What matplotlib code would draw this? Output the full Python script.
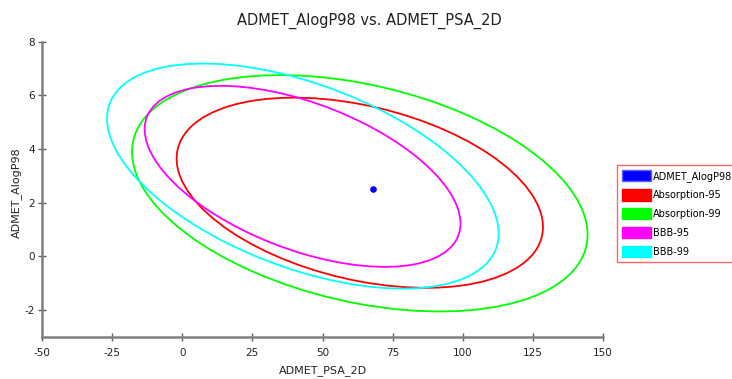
import numpy as np
import matplotlib
matplotlib.use("Agg")
import matplotlib.pyplot as plt
from matplotlib.patches import Ellipse, Patch
from matplotlib.transforms import Affine2D

plt.rcParams['font.family'] = ['DejaVu Sans']
plt.rcParams['axes.unicode_minus'] = False

# ellipse parameters: center, half extents in x / y, correlation
names = ['Absorption-95', 'Absorption-99', 'BBB-95', 'BBB-99']
colors = ['#ff0000', '#00ff00', '#ff00ff', '#00ffff']
cx = [63.3, 63.3, 42.9, 43.0]
cy = [2.37, 2.35, 2.98, 2.99]
rx = [65.3, 81.2, 56.3, 69.8]
ry = [3.54, 4.40, 3.37, 4.19]
rho = [-0.36, -0.35, -0.52, -0.51]

# the single compound
psa = [68.1]
alogp = [2.51]

xticks = [-50, -25, 0, 25, 50, 75, 100, 125, 150]
yticks = [-2, 0, 2, 4, 6, 8]

fig = plt.figure(figsize=(7.32, 3.79), dpi=100)
ax = fig.add_axes([42/732, 1-337/379, (603-42)/732, (337-41.5)/379])

for i in range(len(names)):
    # unit circle -> ellipse with the given extents and tilt
    m = np.array([[rx[i], 0, cx[i]],
                  [rho[i]*ry[i], ry[i]*np.sqrt(1-rho[i]**2), cy[i]],
                  [0, 0, 1]])
    e = Ellipse((0, 0), 2, 2, fill=False, edgecolor=colors[i], lw=1.3,
                transform=Affine2D(m) + ax.transData)
    ax.add_patch(e)

ax.scatter(psa, alogp, s=14, color='#0000ff', zorder=3)

ax.set_xlim(-50, 150)
ax.set_ylim(-3, 8)
ax.set_xticks(xticks)
ax.set_yticks(yticks)
for s in ['top', 'right']:
    ax.spines[s].set_visible(False)
for s in ['left', 'bottom']:
    ax.spines[s].set_color('#808080')
    ax.spines[s].set_linewidth(1.8)
ax.tick_params(direction='inout', length=6, width=1, color='#606060',
               labelsize=7.5, labelcolor='#222222')
ax.tick_params(axis='x', pad=5)
ax.tick_params(axis='y', pad=2)

ax.set_xlabel('ADMET_PSA_2D', fontsize=8, color='#222222')
ax.xaxis.set_label_coords(0.5, -0.095)
ax.set_ylabel('ADMET_AlogP98', fontsize=8, color='#222222')
ax.yaxis.set_label_coords(-0.036, 0.49)
fig.text(0.505, 1-21/379, 'ADMET_AlogP98 vs. ADMET_PSA_2D', ha='center', va='center',
         fontsize=10.5, color='#222222')

handles = [Patch(facecolor='#0000ff', edgecolor='#6060ff', label='ADMET_AlogP98')]
for n, c in zip(names, colors):
    handles.append(Patch(facecolor=c, edgecolor=c, label=n))
leg = fig.legend(handles=handles, loc='upper left', bbox_to_anchor=(617/732, 1-165/379),
                 fontsize=7, frameon=True, fancybox=False, handlelength=3.0,
                 handleheight=1.45, handletextpad=0.2, labelspacing=0.75,
                 borderpad=0.5, borderaxespad=0)
leg.get_frame().set_edgecolor('#ff4040')
leg.get_frame().set_linewidth(1)

fig.savefig('out.png', dpi=100)
